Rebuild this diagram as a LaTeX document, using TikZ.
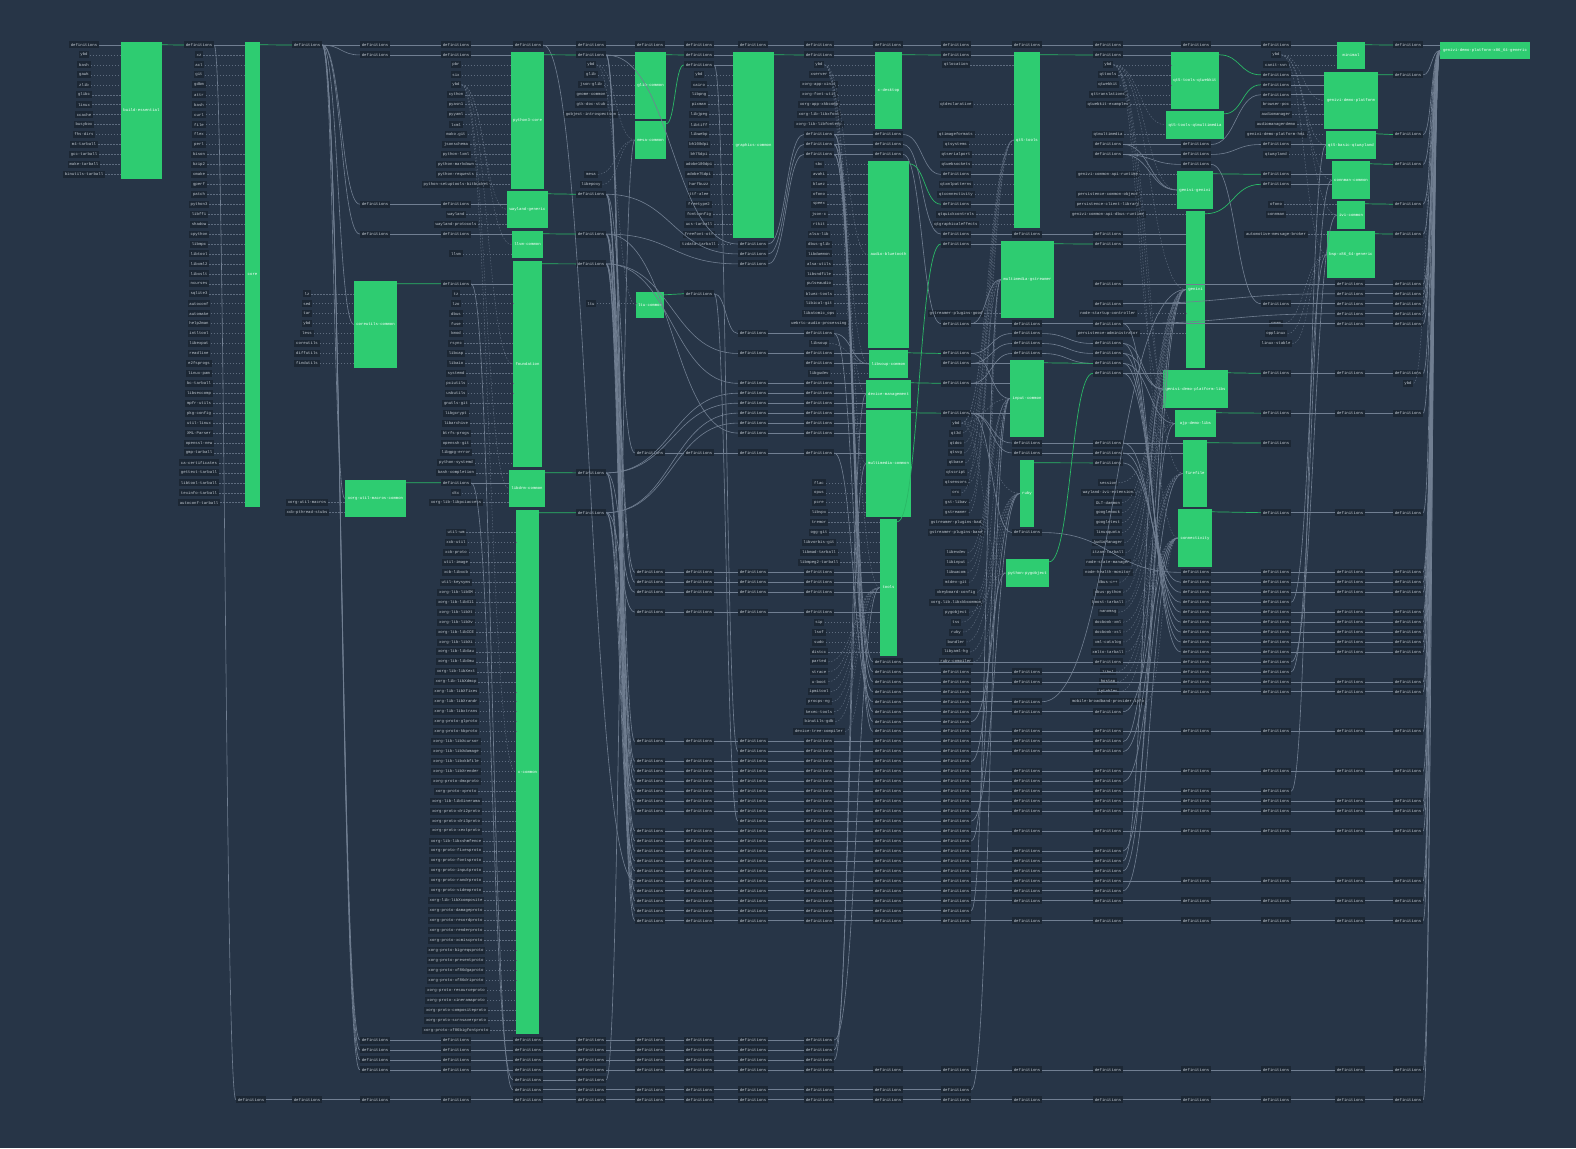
\documentclass[tikz,border=0pt]{standalone}
\usepackage{fontspec}
\setmonofont{Liberation Mono}
\usetikzlibrary{calc}
\definecolor{canvasbg}{HTML}{273547}
\definecolor{tagbg}{HTML}{1C2734}
\definecolor{tagfg}{HTML}{C3CBD4}
\definecolor{linkgray}{HTML}{717F92}
\definecolor{stratumgreen}{HTML}{2ECC71}
\definecolor{owngreen}{HTML}{2AB866}
\begin{document}
\begin{tikzpicture}[x=1pt,y=-1pt]
  \tikzstyle{tag}=[fill=tagbg, text=tagfg, font=\fontsize{4}{4}\selectfont\ttfamily, inner xsep=1.8pt, inner ysep=0pt, minimum height=7pt]
  \tikzstyle{stratum}=[fill=stratumgreen, text=white, font=\fontsize{4}{4}\selectfont\ttfamily, inner sep=0pt]
  \tikzstyle{curvy}=[to path={let \p1=(\tikztostart), \p2=(\tikztotarget), \n1={0.5*(\x2-\x1)} in .. controls ($(\p1)+(\n1,0)$) and ($(\p2)-(\n1,0)$) .. (\p2)}]
  \tikzstyle{link}=[draw=linkgray, line width=0.6pt, curvy]
  \tikzstyle{dep}=[draw=linkgray!75!canvasbg, line width=0.45pt, dash pattern=on 1.5pt off 1.5pt, curvy]
  \tikzstyle{own}=[draw=owngreen, line width=0.7pt, curvy]
  \fill[canvasbg] (0,0) rectangle (1576,1148);
  \useasboundingbox (0,0) rectangle (1576,1148);

  % strata
  \foreach \n/\xa/\ya/\xb/\yb/\t in {be/121/42/162/179/build-essential, core/245/42/260/507/core,
      cuc/354/281/397/368/coreutils-common, xumc/345/480/406/517/xorg-util-macros-common,
      p3c/511/52/544/189/python3-core, wg/507/191/548/228/wayland-generic, llvm/512/231/543/258/llvm-common,
      fnd/513/261/542/467/foundation, ldc/509/470/545/507/libdrm-common, xc/516/510/539/1034/x-common,
      glc/635/52/666/119/glib-common, mc/635/121/666/159/mesa-common, ltc/636/292/664/318/ltu-common,
      gc/733/52/774/238/graphics-common, xd/875/52/902/129/x-desktop, abt/868/161/909/348/audio-bluetooth,
      lsc/869/350/908/378/libsoup-common, dm/866/380/911/408/device-management,
      mmc/866/410/911/517/multimedia-common, tools/880/519/897/656/tools,
      q5t/1014/52/1040/228/qt5-tools, mmg/1001/241/1054/318/multimedia-gstreamer,
      lc/1010/360/1044/437/input-common, ruby/1020/460/1034/527/ruby, pp/1006/559/1049/587/python-pygobject,
      qtwk/1171/52/1219/109/qt5-tools-qtwebkit, qtmm/1166/111/1224/139/qt5-tools-qtmultimedia,
      gg/1177/171/1213/209/genivi-genivi, genivi/1186/211/1205/368/genivi,
      gdpl/1163/370/1228/408/genivi-demo-platform-libs, ajp/1175/410/1216/437/ajp-demo-libs,
      ff/1183/440/1207/507/firefile, conn/1178/509/1212/567/connectivity,
      mini/1337/42/1365/69/minimal, gdp/1324/72/1378/129/genivi-demo-platform,
      q5w/1326/131/1376/159/qt5-basic-qtwayland, cc/1332/161/1370/199/connman-common,
      ivi/1337/201/1365/229/ivi-common, bsp/1327/231/1375/278/bsp-x86\_64-generic,
      final/1440/42/1530/59/genivi-demo-platform-x86\_64-generic}
    \node[stratum, minimum width={(\xb-\xa)*1pt}, minimum height={(\yb-\ya)*1pt}] (\n) at ({(\xa+\xb)/2},{(\ya+\yb)/2}) {\t};

  % definitions nodes
  \foreach \r in {0} \node[tag] (c0r\r) at (84,{45+9.95*\r}) {definitions};
  \foreach \r in {0} \node[tag] (c1r\r) at (199,{45+9.95*\r}) {definitions};
  \foreach \r in {106} \node[tag] (cbr\r) at (251,{45+9.95*\r}) {definitions};
  \foreach \r in {0,106} \node[tag] (c2r\r) at (307,{45+9.95*\r}) {definitions};
  \foreach \r in {0,1,16,19,100,101,102,103,106} \node[tag] (c3r\r) at (375,{45+9.95*\r}) {definitions};
  \foreach \r in {0,1,16,19,24,44,100,101,102,103,106} \node[tag] (c4r\r) at (456,{45+9.95*\r}) {definitions};
  \foreach \r in {0,100,101,102,103,104,105,106} \node[tag] (c5r\r) at (528,{45+9.95*\r}) {definitions};
  \foreach \r in {0,1,15,19,22,43,47,100,101,102,103,104,105,106} \node[tag] (c6r\r) at (591,{45+9.95*\r}) {definitions};
  \foreach \r in {0,41,53,54,55,57,70,72,73,74,75,76,77,79,80,81,82,83,84,85,86,87,88,100,101,102,103,105,106}
    \node[tag] (c7r\r) at (650,{45+9.95*\r}) {definitions};
  \foreach \r in {0,1,2,25,41,53,54,55,57,70,72,73,74,75,76,77,79,80,81,82,83,84,85,86,87,88,100,101,102,103,105,106}
    \node[tag] (c8r\r) at (699,{45+9.95*\r}) {definitions};
  \foreach \r in {0,20,21,22,29,31,34,35,36,37,38,39,41,53,54,55,57,70,71,72,73,74,75,76,77,78,79,80,81,82,83,84,85,86,87,88,100,101,102,103,105,106}
    \node[tag] (c9r\r) at (753,{45+9.95*\r}) {definitions};
  \foreach \r in {0,1,9,10,11,29,31,32,34,35,36,37,38,39,41,53,54,55,57,70,71,72,73,74,75,76,77,78,79,80,81,82,83,84,85,86,87,88,100,101,102,103,105,106}
    \node[tag] (c10r\r) at (819,{45+9.95*\r}) {definitions};
  \foreach \r in {0,9,10,11,62,63,64,65,66,67,68,69,70,71,72,73,74,75,76,77,78,79,80,81,82,83,84,85,86,87,88,103,105,106}
    \node[tag] (c11r\r) at (888,{45+9.95*\r}) {definitions};
  \foreach \r in {0,1,13,16,19,20,28,31,32,34,37,63,64,65,66,67,68,69,70,71,72,73,74,75,76,77,78,79,80,81,82,83,84,85,86,87,88,103,105,106}
    \node[tag] (c12r\r) at (956,{45+9.95*\r}) {definitions};
  \foreach \r in {0,19,28,29,30,31,40,41,49,63,64,66,67,69,70,71,73,74,75,76,77,79,81,82,83,84,85,86,88,103,106}
    \node[tag] (c13r\r) at (1027,{45+9.95*\r}) {definitions};
  \foreach \r in {0,1,10,11,19,20,24,26,28,30,31,32,33,40,41,42,62,67,69,70,71,73,74,75,76,77,79,81,82,83,84,85,86,88,103,106}
    \node[tag] (c14r\r) at (1108,{45+9.95*\r}) {definitions};
  \foreach \r in {0,10,11,12,53,54,55,56,57,58,59,60,61,62,63,64,65,69,73,75,76,77,79,84,86,88,103,106}
    \node[tag] (c15r\r) at (1196,{45+9.95*\r}) {definitions};
  \foreach \r in {0,3,4,5,10,13,14,26,33,37,40,47,53,54,55,56,57,58,59,60,61,62,63,64,65,69,73,75,76,77,79,84,86,88,103,106}
    \node[tag] (c16r\r) at (1276,{45+9.95*\r}) {definitions};
  \foreach \r in {24,25,26,27,28,33,37,47,53,54,55,57,58,59,60,61,64,65,69,73,76,77,79,84,86,88,103,106}
    \node[tag] (cqr\r) at (1350,{45+9.95*\r}) {definitions};
  \foreach \r in {0,3,9,12,16,19,24,25,26,27,28,33,37,47,53,54,55,57,58,59,60,61,64,65,69,73,76,77,79,84,86,88,103,106}
    \node[tag] (c17r\r) at (1408,{45+9.95*\r}) {definitions};

  % chunk nodes
  \foreach \r/\t in {1/ybd,2/bash,3/gawk,4/zlib,5/glibc,6/linux,7/ccache,8/busybox,9/fhs-dirs,10/m4-tarball,
      11/gcc-tarball,12/make-tarball,13/binutils-tarball}
    \node[tag] (c0r\r) at (84,{45+9.95*\r}) {\t};
  \foreach \r/\t in {1/xz,2/acl,3/git,4/gdbm,5/attr,6/bash,7/curl,8/file,9/flex,10/perl,11/bison,12/bzip2,
      13/cmake,14/gperf,15/patch,16/python3,17/libffi,18/shadow,19/cpython,20/libmpc,21/libtool,22/libxml2,
      23/libxslt,24/ncurses,25/sqlite3,26/autoconf,27/automake,28/help2man,29/intltool,30/libexpat,
      31/readline,32/e2fsprogs,33/linux-pam,34/bc-tarball,35/libseccomp,36/mpfr-utils,37/pkg-config,
      38/util-linux,39/XML-Parser,40/openssl-new,41/gmp-tarball,42/ca-certificates,43/gettext-tarball,
      44/libtool-tarball,45/texinfo-tarball,46/autoconf-tarball}
    \node[tag] (c1r\r) at (199,{45+9.95*\r}) {\t};
  \foreach \r/\t in {25/lz,26/sed,27/tar,28/ybd,29/less,30/coreutils,31/diffutils,32/findutils,
      46/xorg-util-macros,47/xcb-pthread-stubs}
    \node[tag] (c2r\r) at (307,{45+9.95*\r}) {\t};
  \foreach \r/\t in {2/pbr,3/six,4/ybd,5/cython,6/pyasn1,7/pyyaml,8/lxml,9/mako.git,10/jsonschema,
      11/python-lxml,12/python-markdown,13/python-requests,14/python-setuptools-bitbucket,17/wayland,
      18/wayland-protocols,21/llvm,25/tz,26/lzo,27/dbus,28/fuse,29/kmod,30/rsync,31/libcap,32/libaio,
      33/systemd,34/pciutils,35/usbutils,36/gnutls-git,37/libgcrypt,38/libarchive,39/btrfs-progs,
      40/openssh-git,41/libgpg-error,42/python-systemd,43/bash-completion,45/dtc,46/xorg-lib-libpciaccess,
      49/util-wm,50/xcb-util,51/xcb-proto,52/util-image,53/xcb-libxcb,54/util-keysyms,55/xorg-lib-libSM,
      56/xorg-lib-libX11,57/xorg-lib-libXt,58/xorg-lib-libXv,59/xorg-lib-libICE,60/xorg-lib-libXi,
      61/xorg-lib-libXau,62/xorg-lib-libXmu,63/xorg-lib-libXext,64/xorg-lib-libXdmcp,65/xorg-lib-libXfixes,
      66/xorg-lib-libXrandr,67/xorg-lib-libxtrans,68/xorg-proto-glproto,69/xorg-proto-kbproto,
      70/xorg-lib-libXcursor,71/xorg-lib-libXdamage,72/xorg-lib-libxkbfile,73/xorg-lib-libXrender,
      74/xorg-proto-dmxproto,75/xorg-proto-xproto,76/xorg-lib-libXinerama,77/xorg-proto-dri2proto,
      78/xorg-proto-dri3proto,79/xorg-proto-xextproto,80/xorg-lib-libxshmfence,81/xorg-proto-fixesproto,
      82/xorg-proto-fontsproto,83/xorg-proto-inputproto,84/xorg-proto-randrproto,85/xorg-proto-videoproto,
      86/xorg-lib-libXcomposite,87/xorg-proto-damageproto,88/xorg-proto-recordproto,
      89/xorg-proto-renderproto,90/xorg-proto-xcmiscproto,91/xorg-proto-bigreqsproto,
      92/xorg-proto-presentproto,93/xorg-proto-xf86dgaproto,94/xorg-proto-xf86driproto,
      95/xorg-proto-resourceproto,96/xorg-proto-xineramaproto,97/xorg-proto-compositeproto,
      98/xorg-proto-scrnsaverproto,99/xorg-proto-xf86bigfontproto}
    \node[tag] (c4r\r) at (456,{45+9.95*\r}) {\t};
  \foreach \r/\t in {2/ybd,3/glib,4/json-glib,5/gnome-common,6/gtk-doc-stub,7/gobject-introspection,
      13/mesa,14/libepoxy,26/ltu}
    \node[tag] (c6r\r) at (591,{45+9.95*\r}) {\t};
  \foreach \r/\t in {3/ybd,4/cairo,5/libpng,6/pixman,7/libjpeg,8/libtiff,9/libwebp,10/bh100dpi,11/bh75dpi,
      12/adobe100dpi,13/adobe75dpi,14/harfbuzz,15/ttf-alee,16/freetype2,17/fontconfig,18/ucs-tarball,
      19/freefont-otf,20/tzdata-tarball}
    \node[tag] (c8r\r) at (699,{45+9.95*\r}) {\t};
  \foreach \r/\t in {2/ybd,3/xserver,4/xorg-app-xinit,5/xorg-font-util,6/xorg-app-xkbcomp,
      7/xorg-lib-libxfont,8/xorg-lib-libfontenc,12/sbc,13/avahi,14/bluez,15/ofono,16/speex,17/json-c,
      18/rtkit,19/alsa-lib,20/dbus-glib,21/libdaemon,22/alsa-utils,23/libsndfile,24/pulseaudio,
      25/bluez-tools,26/libical-git,27/libatomic\_ops,28/webrtc-audio-processing,30/libsoup,33/libgudev,
      44/flac,45/opus,46/pcre,47/libvpx,48/tremor,49/ogg-git,50/libvorbis-git,51/libmad-tarball,
      52/libmpeg2-tarball,58/sip,59/lsof,60/sudo,61/distcc,62/parted,63/strace,64/u-boot,65/ipmitool,
      66/procps-ng,67/kexec-tools,68/binutils-gdb,69/device-tree-compiler}
    \node[tag] (c10r\r) at (819,{45+9.95*\r}) {\t};
  \foreach \r/\t in {2/qtlocation,6/qtdeclarative,9/qtimageformats,10/qtsystems,11/qtserialport,
      12/qtwebsockets,14/qtxmlpatterns,15/qtconnectivity,17/qtquickcontrols,18/qtgraphicaleffects,
      27/gstreamer-plugins-good,38/ybd,39/qt3d,40/qtdoc,41/qtsvg,42/qtbase,43/qtscript,44/qtsensors,45/orc,
      46/gst-libav,47/gstreamer,48/gstreamer-plugins-bad,49/gstreamer-plugins-base,51/libevdev,
      52/libinput,53/libwacom,54/mtdev-git,55/xkeyboard-config,56/xorg.lib.libxkbcommon,57/pygobject,
      58/tss,59/ruby,60/bundler,61/libyaml-hg,62/ruby-compiler}
    \node[tag] (c12r\r) at (956,{45+9.95*\r}) {\t};
  \foreach \r/\t in {2/ybd,3/qttools,4/qtwebkit,5/qttranslations,6/qtwebkit-examples,9/qtmultimedia,
      13/genivi-common-api-runtime,15/persistence-common-object,16/persistence-client-library,
      17/genivi-common-api-dbus-runtime,27/node-startup-controller,29/persistence-administrator,
      44/session,45/wayland-ivi-extension,46/DLT-daemon,47/googlemock,48/googletest,49/linuxquota,
      50/AudioManager,51/itzam-tarball,52/node-state-manager,53/node-health-monitor,54/dbus-c++,
      55/dbus-python,56/boost-tarball,57/nanomsg,58/docbook-xml,59/docbook-xsl,60/xml-catalog,
      61/xmlto-tarball,63/libnl,64/hostap,65/iptables,66/mobile-broadband-provider-info}
    \node[tag] (c14r\r) at (1108,{45+9.95*\r}) {\t};
  \foreach \r/\t in {1/ybd,2/canit-svn,6/browser-poc,7/audiomanager,8/audiomanagerdemo,
      9/genivi-demo-platform-hmi,11/qtwayland,16/ofono,17/connman,19/automotive-message-broker,
      28/cmam,29/opplinux,30/linux-stable}
    \node[tag] (c16r\r) at (1276,{45+9.95*\r}) {\t};
  \node[tag] (c17r34) at (1408,{45+9.95*34}) {ybd};

  % chunks into strata
  \foreach \r in {1,...,13} \draw[dep] (c0r\r.east) -- (c0r\r.east -| be.west);
  \foreach \r in {1,...,46} \draw[dep] (c1r\r.east) -- (c1r\r.east -| core.west);
  \foreach \r in {25,...,32} \draw[dep] (c2r\r.east) -- (c2r\r.east -| cuc.west);
  \foreach \r in {46,47} \draw[dep] (c2r\r.east) -- (c2r\r.east -| xumc.west);
  \foreach \r in {2,...,14} \draw[dep] (c4r\r.east) -- (c4r\r.east -| p3c.west);
  \foreach \r in {17,18} \draw[dep] (c4r\r.east) -- (c4r\r.east -| wg.west);
  \draw[dep] (c4r21.east) -- (c4r21.east -| llvm.west);
  \foreach \r in {25,...,42} \draw[dep] (c4r\r.east) -- (c4r\r.east -| fnd.west);
  \foreach \r in {43,45,46} \draw[dep] (c4r\r.east) -- (c4r\r.east -| ldc.west);
  \foreach \r in {49,...,99} \draw[dep] (c4r\r.east) -- (c4r\r.east -| xc.west);
  \foreach \r in {2,...,7} \draw[dep] (c6r\r.east) -- (c6r\r.east -| glc.west);
  \draw[dep] (c6r26.east) -- (c6r26.east -| ltc.west);
  \foreach \r in {3,...,20} \draw[dep] (c8r\r.east) -- (c8r\r.east -| gc.west);
  \foreach \r in {2,...,8} \draw[dep] (c10r\r.east) -- (c10r\r.east -| xd.west);
  \foreach \r in {12,...,28} \draw[dep] (c10r\r.east) -- (c10r\r.east -| abt.west);
  \draw[dep] (c10r33.east) -- (c10r33.east -| lsc.west);
  \foreach \r in {44,...,47} \draw[dep] (c10r\r.east) -- (c10r\r.east -| mmc.west);
  \foreach \r in {48,49,50,51,52,58,59,60,61} \draw[dep] (c10r\r.east) -- (c10r\r.east -| tools.west);
  \foreach \r in {2,6,9,10,11,12,14,15,17,18} \draw[dep] (c12r\r.east) -- (c12r\r.east -| q5t.west);
  \draw[dep] (c12r27.east) -- (c12r27.east -| mmg.west);
  \foreach \r in {2,...,6} \draw[dep] (c14r\r.east) -- (c14r\r.east -| qtwk.west);
  \draw[dep] (c14r9.east) -- (c14r9.east -| qtmm.west);
  \foreach \r in {13,15,16} \draw[dep] (c14r\r.east) -- (c14r\r.east -| gg.west);
  \foreach \r in {17,27,29} \draw[dep] (c14r\r.east) -- (c14r\r.east -| genivi.west);
  \foreach \r in {1,2} \draw[dep] (c16r\r.east) -- (c16r\r.east -| mini.west);
  \foreach \r in {6,...,9} \draw[dep] (c16r\r.east) -- (c16r\r.east -| gdp.west);
  \draw[dep] (c16r11.east) -- (c16r11.east -| q5w.west);
  \foreach \r in {16,17} \draw[dep] (c16r\r.east) -- (c16r\r.east -| ivi.west);
  \draw[dep] (c16r19.east) -- (c16r19.east -| bsp.west);

  \foreach \a/\b in {c6r13/mc, c6r14/mc, c10r30/lsc, c4r4/wg, c4r4/llvm, c4r4/fnd, c4r4/ldc, c4r4/xc,
      c6r2/mc, c6r2/ltc, c10r2/abt, c10r2/lsc, c10r2/dm, c10r2/mmc, c10r2/tools,
      c12r38/q5t, c12r38/mmg, c12r38/lc, c12r38/ruby, c12r38/pp, c14r2/qtmm, c14r2/gg, c14r2/genivi,
      c14r2/gdpl, c14r2/ajp, c14r2/ff, c14r2/conn, c16r1/gdp, c16r1/q5w, c16r1/cc, c16r1/ivi, c16r1/bsp,
      c17r34/final, c16r28/bsp, c16r29/bsp, c16r30/bsp, c12r57/pp, c14r44/ajp, c14r45/ajp}
    \draw[dep] (\a.east) to (\b.west);
  \foreach \r in {62,...,69} \draw[dep] (c10r\r.east) to (tools.west);
  \foreach \r in {39,...,44} \draw[dep] (c12r\r.east) to (q5t.west);
  \foreach \r in {45,...,49} \draw[dep] (c12r\r.east) to (mmg.west);
  \foreach \r in {51,...,56} \draw[dep] (c12r\r.east) to (lc.west);
  \foreach \r in {58,...,62} \draw[dep] (c12r\r.east) to (ruby.west);
  \foreach \r in {46,...,56} \draw[dep] (c14r\r.east) to (genivi.west);
  \foreach \r in {57,...,61} \draw[dep] (c14r\r.east) to (ff.west);
  \foreach \r in {63,...,66} \draw[dep] (c14r\r.east) to (conn.west);

  % definitions into strata
  \foreach \a/\b in {c0r0/be, c1r0/core, c4r1/p3c, c4r16/wg, c4r19/llvm, c4r24/fnd, c4r44/ldc, c6r1/glc,
      c8r1/gc, c8r2/gc, c10r1/xd, c10r31/lsc, c10r32/lsc, c10r34/dm, c10r35/dm, c10r36/dm, c10r37/mmc,
      c10r38/mmc, c10r39/mmc, c10r41/mmc, c10r53/tools, c10r54/tools, c10r55/tools, c10r57/tools,
      c12r1/q5t, c12r13/q5t, c12r16/q5t, c12r20/mmg, c12r32/lc, c12r34/lc, c12r37/lc, c14r1/qtwk,
      c14r19/genivi, c14r20/genivi, c14r24/genivi, c14r26/genivi, c14r28/genivi, c14r33/gdpl,
      c14r40/ff, c14r41/ff, c16r0/mini, c16r3/gdp, c16r4/gdp, c16r5/gdp, c16r10/q5w, c16r13/cc,
      c16r14/cc, c17r0/final}
    \draw[link] (\a.east) to (\a.east -| \b.west);
  \foreach \a/\b in {c2r0/cuc, c2r0/xumc, c10r29/lsc, c12r28/mmg, c12r31/lc, c14r30/gdpl, c14r31/gdpl,
      c14r32/ajp, c14r10/gg, c14r11/gg, c10r100/tools, c10r101/mmc, c10r102/dm, c12r105/lc, c6r104/mc,
      c14r70/genivi, c14r71/ff, c14r74/conn, c14r81/genivi, c14r82/gdpl, c14r83/ajp, c14r85/conn,
      c14r67/conn, c13r66/genivi, c12r72/pp, c12r78/ruby, c12r80/lc, c12r87/mmg, c12r68/ruby,
      c16r56/bsp, c16r62/ivi, c16r63/cc, c16r75/q5w}
    \draw[link] (\a.east) to (\b.west);

  % definitions to definitions
  \foreach \a/\b in {2/3,3/4,4/5,5/6,6/7,7/8,8/9,9/10,10/11,11/12,12/13,13/14,14/15,15/16}
    \draw[link] (c\a r0.east) to (c\b r0.west);
  \foreach \a/\b in {c2r0/c3r1, c2r0/c3r16, c2r0/c3r19, c2r0/c3r100, c2r0/c3r101, c2r0/c3r102, c2r0/c3r103,
      c3r1/c4r1, c3r16/c4r16, c3r19/c4r19, c1r0/cbr106, c4r44/c5r104, c4r24/c5r105,
      c6r1/c9r20, c6r15/c9r21, c6r19/c9r22, c9r20/c10r9, c9r21/c10r10, c9r22/c10r11,
      c10r9/c11r9, c10r10/c11r10, c10r11/c11r11, c11r9/c12r13, c11r10/c12r19, c11r11/c12r28,
      c12r19/c13r19, c13r19/c14r19, c12r28/c13r28, c13r28/c14r28, c8r25/c9r29, c9r29/c10r29,
      c6r22/c9r31, c6r22/c9r34, c6r43/c9r35, c6r43/c9r36, c6r47/c9r37, c6r47/c9r38, c6r19/c9r39,
      c9r31/c10r31, c9r34/c10r34, c9r35/c10r35, c9r36/c10r36, c9r37/c10r37, c9r38/c10r38, c9r39/c10r39,
      c6r15/c7r41, c7r41/c8r41, c8r41/c9r41, c9r41/c10r41, c12r31/c13r29, c12r32/c13r30, c12r34/c13r31,
      c13r29/c14r30, c13r30/c14r31, c13r31/c14r32, c12r37/c13r40, c12r37/c13r41, c12r37/c13r49,
      c13r40/c14r40, c13r41/c14r41, c14r10/c15r10, c14r11/c15r11, c14r11/c15r12, c15r10/c16r5,
      c15r11/c16r10, c15r12/c16r26, c16r26/cqr26, c14r24/cqr24, c14r26/cqr25, c14r28/cqr27, c14r28/cqr28,
      c16r33/cqr33, c16r37/cqr37, c16r47/cqr47,
      c13r49/c15r53, c14r42/c15r54, c14r41/c15r55, c14r40/c15r56, c14r33/c15r57, c14r32/c15r58,
      c14r31/c15r59, c14r30/c15r60, c14r28/c15r61,
      c10r9/c11r62, c10r10/c11r63, c10r11/c11r64, c10r29/c11r65, c10r41/c11r66, c10r9/c11r67,
      c10r10/c11r68, c10r11/c11r69, c11r62/c14r62, c8r2/c9r71, c8r25/c9r78,
      c6r19/c7r53, c6r22/c7r54, c6r43/c7r55, c6r47/c7r57, c6r1/c7r70, c6r15/c7r72, c6r19/c7r73,
      c6r22/c7r74, c6r43/c7r75, c6r47/c7r76, c6r1/c7r77, c6r15/c7r79, c6r19/c7r80, c6r22/c7r81,
      c6r43/c7r82, c6r47/c7r83, c5r0/c7r84, c6r1/c7r85, c6r15/c7r86, c6r19/c7r87, c6r22/c7r88}
    \draw[link] (\a.east) to (\b.west);
  \foreach \r in {24,...,28} \draw[link] (cqr\r.east) to (c17r\r.west);
  \foreach \r in {33,37,47} \draw[link] (cqr\r.east) to (c17r\r.west);
  \foreach \r in {53,54,55,57} {
    \foreach \a/\b in {7/8,8/9,9/10} \draw[link] (c\a r\r.east) to (c\b r\r.west);
  }
  \foreach \r in {53,54,55,57,58,59,60,61} {
    \foreach \a/\b in {15/16,16/q,q/17} \draw[link] (c\a r\r.east) to (c\b r\r.west);
  }
  \draw[link] (c15r56.east) to (c16r56.west);
  \foreach \a/\b in {14/15,15/16} \draw[link] (c\a r62.east) to (c\b r62.west);
  \foreach \a/\b in {11/12,12/13,13/15,15/16} \draw[link] (c\a r63.east) to (c\b r63.west);
  \foreach \a/\b in {11/12,12/13,13/15,15/16,16/q,q/17} \draw[link] (c\a r64.east) to (c\b r64.west);
  \foreach \a/\b in {11/12,12/15,15/16,16/q,q/17} \draw[link] (c\a r65.east) to (c\b r65.west);
  \foreach \a/\b in {11/12,12/13} \draw[link] (c\a r66.east) to (c\b r66.west);
  \foreach \a/\b in {11/12,12/13,13/14} \draw[link] (c\a r67.east) to (c\b r67.west);
  \draw[link] (c11r68.east) to (c12r68.west);
  \foreach \a/\b in {11/12,12/13,13/14,14/15,15/16,16/q,q/17} \draw[link] (c\a r69.east) to (c\b r69.west);
  \foreach \r in {73,76,77,79,84,86,88} {
    \foreach \a/\b in {7/8,8/9,9/10,10/11,11/12,12/13,13/14,14/15,15/16,16/q,q/17}
      \draw[link] (c\a r\r.east) to (c\b r\r.west);
  }
  \foreach \r in {70,74,81,82,83,85} {
    \foreach \a/\b in {7/8,8/9,9/10,10/11,11/12,12/13,13/14} \draw[link] (c\a r\r.east) to (c\b r\r.west);
  }
  \foreach \r in {72,80,87} {
    \foreach \a/\b in {7/8,8/9,9/10,10/11,11/12} \draw[link] (c\a r\r.east) to (c\b r\r.west);
  }
  \foreach \a/\b in {7/8,8/9,9/10,10/11,11/12,12/13,13/14,14/15,15/16} \draw[link] (c\a r75.east) to (c\b r75.west);
  \foreach \a/\b in {9/10,10/11,11/12,12/13,13/14} \draw[link] (c\a r71.east) to (c\b r71.west);
  \foreach \a/\b in {9/10,10/11,11/12} \draw[link] (c\a r78.east) to (c\b r78.west);
  \foreach \r in {100,101,102} {
    \foreach \a/\b in {3/4,4/5,5/6,6/7,7/8,8/9,9/10} \draw[link] (c\a r\r.east) to (c\b r\r.west);
  }
  \foreach \a/\b in {3/4,4/5,5/6,6/7,7/8,8/9,9/10,10/11,11/12,12/13,13/14,14/15,15/16,16/q,q/17}
    \draw[link] (c\a r103.east) to (c\b r103.west);
  \draw[link] (c5r104.east) to (c6r104.west);
  \foreach \a/\b in {5/6,6/7,7/8,8/9,9/10,10/11,11/12} \draw[link] (c\a r105.east) to (c\b r105.west);
  \foreach \a/\b in {b/2,2/3,3/4,4/5,5/6,6/7,7/8,8/9,9/10,10/11,11/12,12/13,13/14,14/15,15/16,16/q,q/17}
    \draw[link] (c\a r106.east) to (c\b r106.west);
  \foreach \r in {3,9,12,16,19,24,25,26,27,28,33,37,47,53,54,55,57,58,59,60,61,64,65,69,73,76,77,79,84,86,88,103,106}
    \draw[link] (c17r\r.east) to (final.west);

  % strata to their definitions
  \foreach \a/\b in {be/c1r0, core/c2r0, cuc/c4r24, xumc/c4r44, p3c/c6r1, wg/c6r15, llvm/c6r19,
      fnd/c6r22, ldc/c6r43, xc/c6r47, glc/c8r1, mc/c8r2, ltc/c8r25, gc/c10r1, xd/c12r1, abt/c12r16,
      lsc/c12r31, dm/c12r34, mmc/c12r37, tools/c12r20, q5t/c14r1, mmg/c14r20, lc/c14r32, ruby/c14r42,
      pp/c14r33, qtwk/c16r3, qtmm/c16r4, gg/c16r13, genivi/c16r14, gdpl/c16r33, ajp/c16r37, ff/c16r40,
      conn/c16r47, mini/c17r0, gdp/c17r3, q5w/c17r9, cc/c17r12, ivi/c17r16, bsp/c17r19}
    \draw[own] ([yshift=-3pt]\a.north east) to (\b.west);
\end{tikzpicture}
\end{document}
